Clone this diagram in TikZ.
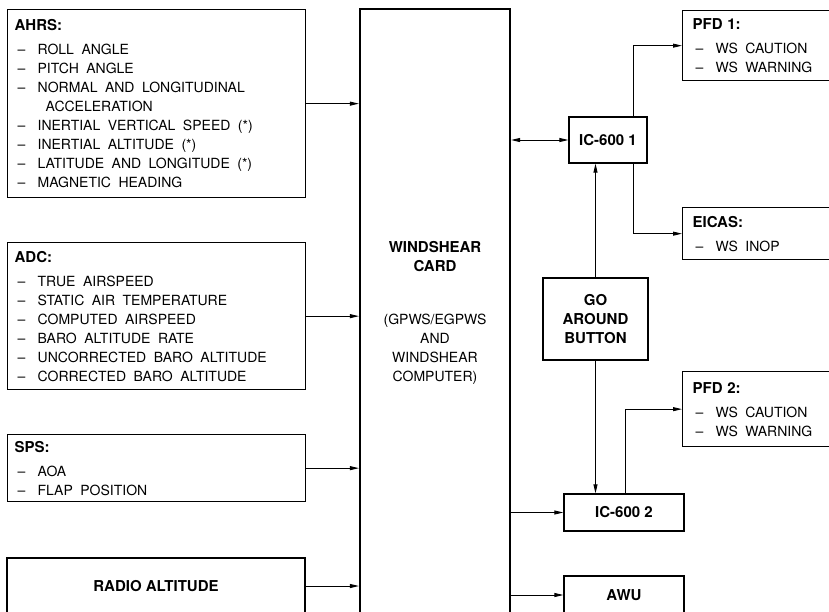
\documentclass[tikz,border=0pt]{standalone}
\usepackage{fontspec}
\setmainfont{TeX Gyre Heros}
\usetikzlibrary{arrows.meta}
\newcommand{\widesp}{\spaceskip=7.5pt plus 1pt minus 1pt\relax}
\newcommand{\itm}[1]{\hspace*{3pt}\makebox[20pt][l]{\textendash}{\widesp#1}}
\newcommand{\hd}[1]{{\fontsize{15}{19}\selectfont\bfseries#1}}

\begin{document}
\begin{tikzpicture}[x=1pt,y=-1pt,>={Triangle[length=9pt,width=4pt]}]

\tikzset{
b/.style={
    draw,
    line width=1.3pt,
    inner sep=0pt,
    align=center,
    font=\fontsize{15}{19}\selectfont\bfseries
},
lb/.style={
    draw,
    line width=1.3pt,
    anchor=north west,
    inner xsep=7pt,
    inner ysep=0pt,
    text width=284pt,
    align=left,
    font=\fontsize{14}{19}\selectfont
},
a/.style={->,line width=0.9pt}
}

\path[use as bounding box,clip] (0,0) rectangle (829,611);

\node[lb,minimum height=188pt] (ahrs) at (7,9) {\hd{AHRS:}\\[5pt]
    \itm{ROLL ANGLE}\\\itm{PITCH ANGLE}\\\itm{NORMAL AND LONGITUDINAL}\\
    \hspace*{31pt}ACCELERATION\\\itm{INERTIAL VERTICAL SPEED (*)}\\
    \itm{INERTIAL ALTITUDE (*)}\\\itm{LATITUDE AND LONGITUDE (*)}\\
    \itm{MAGNETIC HEADING}};
\node[lb,minimum height=147pt] (adc) at (7,242) {\hd{ADC:}\\[5pt]
    \itm{TRUE AIRSPEED}\\\itm{STATIC AIR TEMPERATURE}\\\itm{COMPUTED AIRSPEED}\\
    \itm{BARO ALTITUDE RATE}\\\itm{UNCORRECTED BARO ALTITUDE}\\
    \itm{CORRECTED BARO ALTITUDE}};
\node[lb,minimum height=67pt] (sps) at (7,434) {\hd{SPS:}\\[5pt]
    \itm{AOA}\\\itm{FLAP POSITION}};
\node[b,minimum width=298pt,minimum height=56pt] (radio) at (156,586) {RADIO ALTITUDE};

\node[b,line width=2.2pt,minimum width=150pt,minimum height=608pt,
    font=\fontsize{14}{19}\selectfont] (card) at (435,313)
    {\hd{WINDSHEAR}\\\hd{CARD}\\[34pt](GPWS/EGPWS\\AND\\WINDSHEAR\\COMPUTER)};

\node[b,minimum width=78pt,minimum height=46pt] (ic1) at (608,140) {IC-600 1};
\node[b,minimum width=105pt,minimum height=82pt] (go) at (595.5,319) {GO\\AROUND\\BUTTON};
\node[b,minimum width=120pt,minimum height=37pt] (ic2) at (624,512.5) {IC-600 2};
\node[b,minimum width=120pt,minimum height=38pt] (awu) at (624,595) {AWU};

\node[lb,inner xsep=10pt,text width=150pt,minimum height=70pt] (pfd1) at (682,10)
    {\hd{PFD 1:}\\[5pt]\itm{WS CAUTION}\\\itm{WS WARNING}};
\node[lb,inner xsep=10pt,text width=150pt,minimum height=52pt] (eicas) at (682,207)
    {\hd{EICAS:}\\[5pt]\itm{WS INOP}};
\node[lb,inner xsep=10pt,text width=150pt,minimum height=75pt] (pfd2) at (682,371)
    {\hd{PFD 2:}\\[5pt]\itm{WS CAUTION}\\\itm{WS WARNING}};

\draw[a] (ahrs.east) -- (ahrs.east -| card.west);
\draw[a] (adc.east) -- (adc.east -| card.west);
\draw[a] (sps.east) -- (sps.east -| card.west);
\draw[a] (radio.east) -- (radio.east -| card.west);
\draw[a,<->] (ic1.west -| card.east) -- (ic1.west);
\draw[a] ([xshift=25pt]ic1.north) |- (pfd1.west);
\draw[a] ([xshift=25pt]ic1.south) |- (eicas.west);
\draw[a] (go.north) -- (go.north |- ic1.south);
\draw[a] (go.south) -- (go.south |- ic2.north);
\draw[a] ([xshift=1pt]ic2.north) |- (pfd2.west);
\draw[a] (ic2.west -| card.east) -- (ic2.west);
\draw[a] (awu.west -| card.east) -- (awu.west);

\end{tikzpicture}
\end{document}
